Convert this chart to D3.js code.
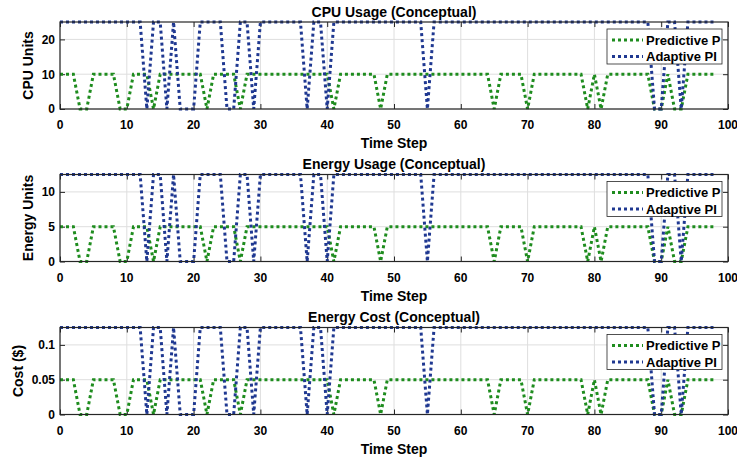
<!DOCTYPE html>
<html>
<head>
<meta charset="utf-8">
<script src="https://cdn.jsdelivr.net/npm/d3@7/dist/d3.min.js"></script>
<style>
  body { margin: 0; background: #fff; }
  svg text { font-family: "Liberation Sans", Arial, Helvetica, sans-serif; font-weight: bold; fill: #000; }
</style>
</head>
<body>
<div id="chart"></div>
<script>
// x axis: time steps and ticks
const timeSteps = d3.range(0, 99);
const xTicks = [0, 10, 20, 30, 40, 50, 60, 70, 80, 90, 100];
const seriesNames = ['Predictive P', 'Adaptive PI'];

// CPU usage
const cpuPredictive = [
  10, 10, 10, 0, 0, 10, 10, 10, 10, 0,
  0, 10, 10, 10, 0, 10, 10, 10, 10, 10,
  10, 10, 0, 10, 10, 10, 10, 0, 10, 10,
  10, 10, 10, 10, 10, 10, 10, 10, 10, 10,
  10, 0, 10, 10, 10, 10, 10, 10, 0, 10,
  10, 10, 10, 10, 10, 10, 10, 10, 10, 10,
  10, 10, 10, 10, 10, 0, 10, 10, 10, 10,
  0, 10, 10, 10, 10, 10, 10, 10, 10, 0,
  10, 0, 10, 10, 10, 10, 10, 10, 10, 0,
  0, 10, 0, 0, 10, 10, 10, 10, 10
];
const cpuAdaptive = [
  25, 25, 25, 25, 25, 25, 25, 25, 25, 25,
  25, 25, 25, 0, 25, 25, 0, 25, 0, 0,
  0, 25, 25, 25, 25, 0, 0, 25, 25, 0,
  25, 25, 25, 25, 25, 25, 25, 0, 25, 25,
  0, 25, 25, 25, 25, 25, 25, 25, 25, 25,
  25, 25, 25, 25, 25, 0, 25, 25, 25, 25,
  25, 25, 25, 25, 25, 25, 25, 25, 25, 25,
  25, 25, 25, 25, 25, 25, 25, 25, 25, 25,
  25, 25, 25, 25, 25, 25, 25, 25, 25, 0,
  0, 25, 25, 0, 25, 25, 25, 25, 25
];
const cpuTicks = [0, 10, 20];

// energy usage
const energyPredictive = [
  5, 5, 5, 0, 0, 5, 5, 5, 5, 0,
  0, 5, 5, 5, 0, 5, 5, 5, 5, 5,
  5, 5, 0, 5, 5, 5, 5, 0, 5, 5,
  5, 5, 5, 5, 5, 5, 5, 5, 5, 5,
  5, 0, 5, 5, 5, 5, 5, 5, 0, 5,
  5, 5, 5, 5, 5, 5, 5, 5, 5, 5,
  5, 5, 5, 5, 5, 0, 5, 5, 5, 5,
  0, 5, 5, 5, 5, 5, 5, 5, 5, 0,
  5, 0, 5, 5, 5, 5, 5, 5, 5, 0,
  0, 5, 0, 0, 5, 5, 5, 5, 5
];
const energyAdaptive = [
  12.5, 12.5, 12.5, 12.5, 12.5, 12.5, 12.5, 12.5, 12.5, 12.5,
  12.5, 12.5, 12.5, 0, 12.5, 12.5, 0, 12.5, 0, 0,
  0, 12.5, 12.5, 12.5, 12.5, 0, 0, 12.5, 12.5, 0,
  12.5, 12.5, 12.5, 12.5, 12.5, 12.5, 12.5, 0, 12.5, 12.5,
  0, 12.5, 12.5, 12.5, 12.5, 12.5, 12.5, 12.5, 12.5, 12.5,
  12.5, 12.5, 12.5, 12.5, 12.5, 0, 12.5, 12.5, 12.5, 12.5,
  12.5, 12.5, 12.5, 12.5, 12.5, 12.5, 12.5, 12.5, 12.5, 12.5,
  12.5, 12.5, 12.5, 12.5, 12.5, 12.5, 12.5, 12.5, 12.5, 12.5,
  12.5, 12.5, 12.5, 12.5, 12.5, 12.5, 12.5, 12.5, 12.5, 0,
  0, 12.5, 12.5, 0, 12.5, 12.5, 12.5, 12.5, 12.5
];
const energyTicks = [0, 5, 10];

// energy cost
const costPredictive = [
  0.05, 0.05, 0.05, 0, 0, 0.05, 0.05, 0.05, 0.05, 0,
  0, 0.05, 0.05, 0.05, 0, 0.05, 0.05, 0.05, 0.05, 0.05,
  0.05, 0.05, 0, 0.05, 0.05, 0.05, 0.05, 0, 0.05, 0.05,
  0.05, 0.05, 0.05, 0.05, 0.05, 0.05, 0.05, 0.05, 0.05, 0.05,
  0.05, 0, 0.05, 0.05, 0.05, 0.05, 0.05, 0.05, 0, 0.05,
  0.05, 0.05, 0.05, 0.05, 0.05, 0.05, 0.05, 0.05, 0.05, 0.05,
  0.05, 0.05, 0.05, 0.05, 0.05, 0, 0.05, 0.05, 0.05, 0.05,
  0, 0.05, 0.05, 0.05, 0.05, 0.05, 0.05, 0.05, 0.05, 0,
  0.05, 0, 0.05, 0.05, 0.05, 0.05, 0.05, 0.05, 0.05, 0,
  0, 0.05, 0, 0, 0.05, 0.05, 0.05, 0.05, 0.05
];
const costAdaptive = [
  0.125, 0.125, 0.125, 0.125, 0.125, 0.125, 0.125, 0.125, 0.125, 0.125,
  0.125, 0.125, 0.125, 0, 0.125, 0.125, 0, 0.125, 0, 0,
  0, 0.125, 0.125, 0.125, 0.125, 0, 0, 0.125, 0.125, 0,
  0.125, 0.125, 0.125, 0.125, 0.125, 0.125, 0.125, 0, 0.125, 0.125,
  0, 0.125, 0.125, 0.125, 0.125, 0.125, 0.125, 0.125, 0.125, 0.125,
  0.125, 0.125, 0.125, 0.125, 0.125, 0, 0.125, 0.125, 0.125, 0.125,
  0.125, 0.125, 0.125, 0.125, 0.125, 0.125, 0.125, 0.125, 0.125, 0.125,
  0.125, 0.125, 0.125, 0.125, 0.125, 0.125, 0.125, 0.125, 0.125, 0.125,
  0.125, 0.125, 0.125, 0.125, 0.125, 0.125, 0.125, 0.125, 0.125, 0,
  0, 0.125, 0.125, 0, 0.125, 0.125, 0.125, 0.125, 0.125
];
const costTicks = [0, 0.05, 0.1];

// panel setup (built from the arrays above)
const panels = [
  { title: 'CPU Usage (Conceptual)', ylabel: 'CPU Units', ymax: 25, ticks: cpuTicks, series: [cpuPredictive, cpuAdaptive] },
  { title: 'Energy Usage (Conceptual)', ylabel: 'Energy Units', ymax: 12.5, ticks: energyTicks, series: [energyPredictive, energyAdaptive] },
  { title: 'Energy Cost (Conceptual)', ylabel: 'Cost ($)', ymax: 0.125, ticks: costTicks, series: [costPredictive, costAdaptive] }
];

const width = 737, height = 460;
const left = 60, right = 728, plotH = 87;
const tops = [22, 174.5, 327.5];
const colors = ['#1e8c1e', '#1f3891'];
const axisColor = '#262626';

const svg = d3.select('#chart')
  .append('svg')
  .attr('width', width)
  .attr('height', height);

svg.append('rect')
  .attr('width', width)
  .attr('height', height)
  .attr('fill', '#fff');

const x = d3.scaleLinear().domain([0, 100]).range([left, right]);

panels.forEach((p, i) => {
  const top = tops[i], bottom = top + plotH;
  const y = d3.scaleLinear().domain([0, p.ymax]).range([bottom, top]);
  const g = svg.append('g');

  // grid
  g.append('g')
    .selectAll('line')
    .data(xTicks)
    .enter()
    .append('line')
    .attr('x1', d => x(d)).attr('x2', d => x(d))
    .attr('y1', top).attr('y2', bottom)
    .attr('stroke', '#dedede').attr('stroke-width', 1);
  g.append('g')
    .selectAll('line')
    .data(p.ticks)
    .enter()
    .append('line')
    .attr('x1', left).attr('x2', right)
    .attr('y1', d => y(d)).attr('y2', d => y(d))
    .attr('stroke', '#dedede').attr('stroke-width', 1);

  // box and axes (ticks point inward)
  const xAxisB = d3.axisTop(x).tickValues(xTicks).tickSize(5).tickFormat('');
  const xAxisT = d3.axisBottom(x).tickValues(xTicks).tickSize(5).tickFormat('');
  const yAxisL = d3.axisRight(y).tickValues(p.ticks).tickSize(5).tickFormat('');
  const yAxisR = d3.axisLeft(y).tickValues(p.ticks).tickSize(5).tickFormat('');
  [[xAxisB, `translate(0,${bottom})`], [xAxisT, `translate(0,${top})`],
   [yAxisL, `translate(${left},0)`], [yAxisR, `translate(${right},0)`]].forEach(([ax, tr]) => {
    const a = g.append('g').attr('transform', tr).call(ax);
    a.select('.domain').remove();
    a.selectAll('line').attr('stroke', axisColor).attr('stroke-width', 1);
  });

  // lines
  const line = d3.line()
    .x((d, j) => x(timeSteps[j]))
    .y(d => y(d));
  p.series.forEach((s, k) => {
    g.append('path')
      .datum(s)
      .attr('d', line)
      .attr('fill', 'none')
      .attr('stroke', colors[k])
      .attr('stroke-width', 3)
      .attr('stroke-dasharray', '3 3');
  });

  g.append('rect')
    .attr('x', left).attr('y', top)
    .attr('width', right - left).attr('height', plotH)
    .attr('fill', 'none')
    .attr('stroke', axisColor)
    .attr('stroke-width', 1.2);

  // tick labels
  g.append('g')
    .selectAll('text')
    .data(xTicks)
    .enter()
    .append('text')
    .attr('x', d => x(d))
    .attr('y', bottom + 20)
    .attr('text-anchor', 'middle')
    .attr('font-size', 12)
    .text(d => d);
  const yLabels = g.append('g')
    .selectAll('text')
    .data(p.ticks)
    .enter()
    .append('text')
    .attr('x', left - 5)
    .attr('y', d => y(d) + 4.3)
    .attr('text-anchor', 'end')
    .attr('font-size', 12)
    .text(d => d);

  const minLeft = d3.min(yLabels.nodes(), n => n.getBBox().x);

  // titles and labels
  g.append('text')
    .attr('x', (left + right) / 2)
    .attr('y', top - 5.5)
    .attr('text-anchor', 'middle')
    .attr('font-size', 14)
    .text(p.title);
  g.append('text')
    .attr('x', (left + right) / 2)
    .attr('y', bottom + 39)
    .attr('text-anchor', 'middle')
    .attr('font-size', 14)
    .text('Time Step');
  g.append('text')
    .attr('transform', `translate(${minLeft - 9},${(top + bottom) / 2}) rotate(-90)`)
    .attr('text-anchor', 'middle')
    .attr('font-size', 14)
    .text(p.ylabel);

  // legend
  const lg = g.append('g').attr('transform', `translate(607,${top + 7})`);
  lg.append('rect')
    .attr('width', 115).attr('height', 35)
    .attr('fill', '#fff')
    .attr('stroke', axisColor)
    .attr('stroke-width', 0.8);
  seriesNames.forEach((name, k) => {
    const yy = 11 + k * 16.5;
    lg.append('line')
      .attr('x1', 5).attr('x2', 36)
      .attr('y1', yy).attr('y2', yy)
      .attr('stroke', colors[k])
      .attr('stroke-width', 3)
      .attr('stroke-dasharray', '3 3');
    lg.append('text')
      .attr('x', 39)
      .attr('y', yy + 4.5)
      .attr('font-size', 13)
      .text(name);
  });
});
</script>
</body>
</html>
